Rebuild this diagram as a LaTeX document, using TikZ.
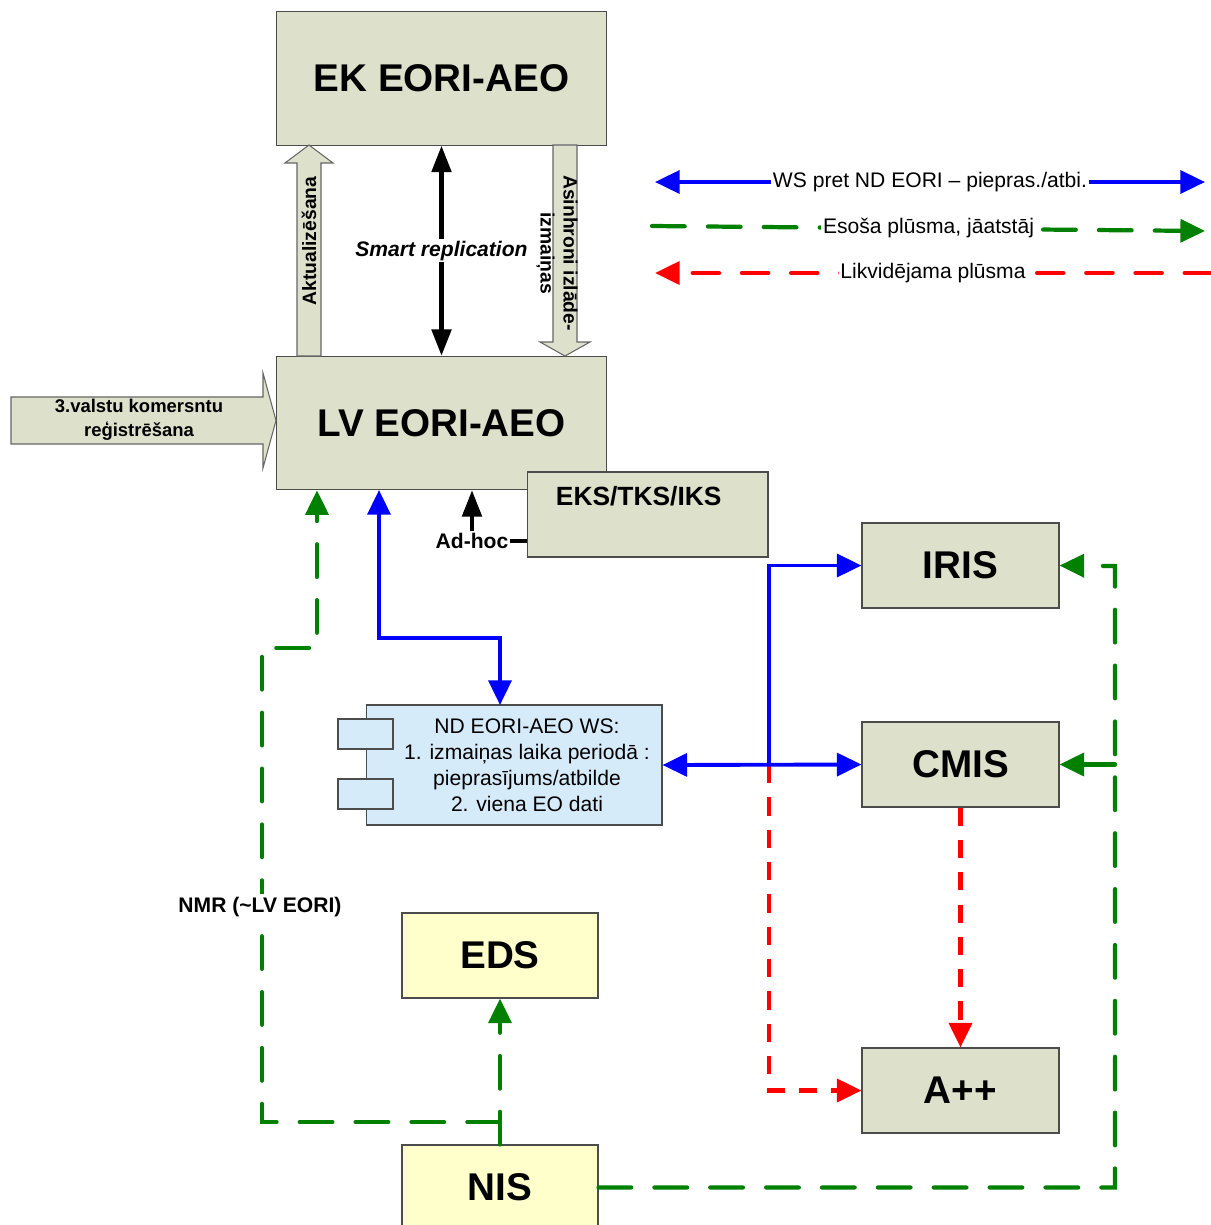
\documentclass[tikz,border=0pt]{standalone}
\usepackage{fontspec}
\setmainfont{Liberation Sans}
\usetikzlibrary{arrows.meta,calc}
\definecolor{boxgray}{RGB}{221,224,203}
\definecolor{boxyellow}{RGB}{255,255,204}
\definecolor{boxblue}{RGB}{214,235,250}
\definecolor{flowgreen}{RGB}{0,128,0}

\begin{document}
\begin{tikzpicture}[x=0.02cm,y=-0.02cm,
  >={Triangle[length=14pt,width=13pt]},
  sys/.style={draw=black!70,line width=0.6pt,fill=boxgray,minimum width=3.94cm,minimum height=1.7cm,font=\fontsize{22}{26}\selectfont\bfseries},
  bigsys/.style={sys,minimum width=6.62cm,minimum height=2.67cm},
  natsys/.style={sys,fill=boxyellow,minimum width=3.92cm},
  wsbox/.style={draw=black!70,line width=0.6pt,fill=boxblue,minimum width=5.92cm,minimum height=2.4cm},
  wstab/.style={draw=black!70,line width=0.6pt,fill=boxblue,minimum width=1.1cm,minimum height=0.6cm},
  blockarr/.style={draw=black!60,line width=0.6pt,fill=boxgray},
  wsline/.style={draw=blue,line width=2.2pt},
  oldline/.style={draw=flowgreen,line width=2.4pt,line cap=round,dash pattern=on 18.6pt off 13.2pt},
  delline/.style={draw=red,line width=2.4pt,dash pattern=on 10.4pt off 8pt},
  repline/.style={draw=black,line width=2.4pt,>={Triangle[length=15pt,width=11pt]}},
  lbl/.style={font=\fontsize{12}{14.7}\selectfont},
  blbl/.style={font=\fontsize{12}{14.7}\selectfont\bfseries},
  arrlbl/.style={font=\fontsize{11}{13}\selectfont\bfseries},
]
  \useasboundingbox (0,0) rectangle (1211,1225);

  \node[bigsys] (ek) at (441.5,78.5) {EK EORI-AEO};
  \node[bigsys] (lv) at (441.5,423) {LV EORI-AEO};
  \node[sys,minimum width=4.82cm,label={[anchor=north,xshift=-5pt,yshift=-5pt,font=\fontsize{15}{18}\selectfont\bfseries]north:EKS/TKS/IKS}] (eks) at (647.5,514.5) {};
  \node[sys] (iris) at (960.5,565.5) {IRIS};
  \node[sys] (cmis) at (960.5,764.5) {CMIS};
  \node[sys] (app) at (960.5,1090.5) {A++};
  \node[natsys] (eds) at (500,955.5) {EDS};
  \node[natsys] (nis) at (500,1187.5) {NIS};
  \node[wsbox] (ws) at (514,765) {};
  \node[wstab] (tab1) at (365.5,734) {};
  \node[wstab] (tab2) at (365.5,794) {};
  \node[lbl,align=center] (wstext) at (527,765) {ND EORI-AEO WS:\\1. izmaiņas laika periodā :\\pieprasījums/atbilde\\2. viena EO dati};

  \draw[blockarr] (297,356) -- (297,163) -- (285,163) -- (309,145) -- (333,163) -- (321,163) -- (321,356) -- cycle;
  \node[arrlbl,rotate=90] (akt) at (309,241) {Aktualizēšana};
  \draw[blockarr] (553,145) -- (553,342) -- (540,342) -- (565,356) -- (590,342) -- (577,342) -- (577,145) -- cycle;
  \node[arrlbl,rotate=-90,align=center] (asin) at (557,253) {Asinhroni izlāde-\\izmaiņas};
  \draw[blockarr] (11,397) -- (263,397) -- (263,373) -- (276,420.5) -- (263,468) -- (263,444) -- (11,444) -- cycle;
  \node[align=center,font=\fontsize{10.5}{13.5}\selectfont\bfseries] (reg) at (139,420) {3.valstu komersntu\\reģistrēšana};

  \draw[repline,<->] (ek.south) -- (lv.north) node[midway,fill=white,inner sep=1pt,font=\fontsize{12}{14}\selectfont\bfseries\itshape] (smart) {Smart replication};

  \node[blbl,inner sep=1pt] (adhoc) at (472,541) {Ad-hoc};
  \draw[repline,->] (adhoc.north) -- (adhoc.north |- lv.south);
  \draw[line width=2.4pt] (adhoc.east) -- (adhoc.east -| eks.west);

  \coordinate (split) at (769,765);
  \draw[delline,->] (split) |- (app.west);
  \draw[delline,->] (cmis.south) -- (app.north);

  \coordinate (lvout) at (379,490);
  \coordinate (wsin) at (500,705);
  \draw[wsline,<->] (lvout) -- ++(0,148) -| (wsin);
  \draw[wsline,<->] (ws.east) -- (cmis.west);
  \draw[wsline,->] (split) |- (iris.west);

  \coordinate (rside) at (1115,566);
  \draw[oldline,->] (nis.east) -| (rside) -- (iris.east);
  \draw[oldline,->] (rside |- cmis.east) -- (cmis.east);
  \draw[oldline,->] (nis.north) -- (eds.south);
  \coordinate (nmrlow) at (262,1122);
  \coordinate (nmrup) at (317,648);
  \draw[oldline,->] (nis.north |- nmrlow) -- (nmrlow) |- (nmrup) -- (nmrup |- lv.south);
  \node[blbl,fill=white,inner sep=2pt] (nmr) at (260,907) {NMR (\textasciitilde LV EORI)};

  \coordinate (leg1a) at (655,182);
  \coordinate (leg1b) at (1205,182);
  \draw[wsline,<->] (leg1a) -- (leg1b) node[midway,fill=white,lbl,inner sep=1pt] (leg1) {WS pret ND EORI \textendash{} piepras./atbi.};
  \coordinate (leg2a) at (652,226);
  \coordinate (leg2b) at (1205,231);
  \draw[oldline,->] (leg2a) -- (leg2b) node[midway,fill=white,lbl,inner sep=1pt] (leg2) {Esoša plūsma, jāatstāj};
  \coordinate (leg3a) at (1211,273);
  \coordinate (leg3b) at (655,273);
  \draw[delline,dash pattern=on 15pt off 13pt,line cap=round,->] (leg3a) -- (leg3b) node[midway,fill=white,lbl,inner sep=1pt] (leg3) {Likvidējama plūsma};
\end{tikzpicture}
\end{document}
